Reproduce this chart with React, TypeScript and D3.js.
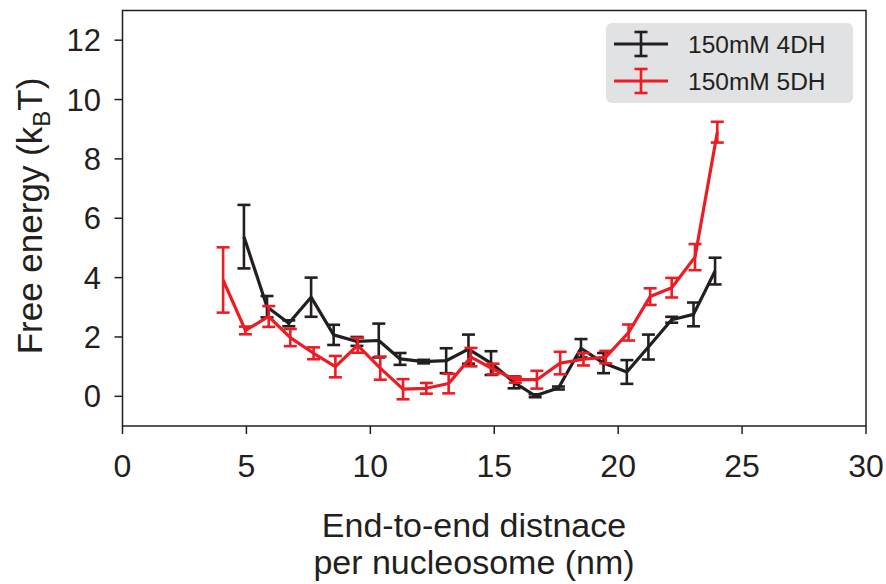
import React from "react";
import * as d3 from "d3";

const x4DH = [4.9, 5.83, 6.71, 7.61, 8.52, 9.46, 10.34, 11.2, 12.15, 13.06, 13.96, 14.87, 15.8, 16.65, 17.59, 18.5, 19.41, 20.35, 21.22, 22.16, 23.04, 23.91];
const y4DH = [5.38, 3.02, 2.46, 3.34, 2.07, 1.85, 1.88, 1.26, 1.17, 1.2, 1.59, 1.12, 0.47, 0.02, 0.28, 1.62, 1.12, 0.82, 1.66, 2.58, 2.76, 4.22];
const e4DH = [1.07, 0.36, 0.1, 0.66, 0.34, 0.15, 0.57, 0.2, 0.06, 0.42, 0.49, 0.4, 0.2, 0.05, 0.05, 0.31, 0.34, 0.4, 0.42, 0.1, 0.4, 0.45];

const x5DH = [4.06, 4.96, 5.9, 6.77, 7.71, 8.59, 9.49, 10.4, 11.32, 12.26, 13.16, 14.06, 14.95, 15.85, 16.72, 17.66, 18.6, 19.5, 20.42, 21.29, 22.16, 23.1, 24.0];
const y5DH = [3.92, 2.22, 2.69, 1.98, 1.45, 1.0, 1.72, 0.95, 0.24, 0.27, 0.43, 1.32, 0.92, 0.56, 0.56, 1.12, 1.25, 1.32, 2.15, 3.36, 3.66, 4.69, 8.9];
const e5DH = [1.1, 0.13, 0.35, 0.29, 0.2, 0.36, 0.25, 0.39, 0.34, 0.18, 0.33, 0.31, 0.18, 0.1, 0.3, 0.38, 0.21, 0.21, 0.27, 0.28, 0.33, 0.44, 0.35];

const xTicks = [0, 5, 10, 15, 20, 25, 30];
const yTicks = [0, 2, 4, 6, 8, 10, 12];
const seriesNames = ["150mM 4DH", "150mM 5DH"];
const seriesColors = ["#231f20", "#ed1c24"];
const xLabelLines = ["End-to-end distnace", "per nucleosome (nm)"];

const FONT = "'Liberation Sans', Arial, Helvetica, sans-serif";
const INK = "#231f20";

export default function App() {
  const W = 886, H = 584;
  const left = 122.5, right = 866, top = 10.5, bottom = 426;
  const x = d3.scaleLinear().domain([0, 30]).range([left, right]);
  const y = d3.scaleLinear().domain([-1, 13]).range([bottom, top]);
  const line = d3.line<[number, number]>().x(d => x(d[0])).y(d => y(d[1]));

  const series = [
    { xs: x4DH, ys: y4DH, es: e4DH },
    { xs: x5DH, ys: y5DH, es: e5DH },
  ];
  const cap = 6.5;

  return (
    <svg width={W} height={H} style={{ position: "absolute", left: 0, top: 0, background: "#fff" }}>
      {/* frame */}
      <rect x={left} y={top} width={right - left} height={bottom - top} fill="none" stroke={INK} strokeWidth={1.5} />
      {/* x ticks */}
      {xTicks.map(t => (
        <g key={"xt" + t}>
          <line x1={x(t)} x2={x(t)} y1={bottom} y2={bottom + 8} stroke={INK} strokeWidth={1.5} />
          <text x={x(t)} y={477} textAnchor="middle" fontFamily={FONT} fontSize={32} fill={INK}>{t}</text>
        </g>
      ))}
      {/* y ticks */}
      {yTicks.map(t => (
        <g key={"yt" + t}>
          <line x1={left - 8} x2={left} y1={y(t)} y2={y(t)} stroke={INK} strokeWidth={1.5} />
          <text x={101} y={y(t)} dy="0.36em" textAnchor="end" fontFamily={FONT} fontSize={31} fill={INK}>{t}</text>
        </g>
      ))}
      {/* series */}
      {series.map((s, i) => (
        <g key={"s" + i}>
          <path d={line(s.xs.map((v, j) => [v, s.ys[j]] as [number, number])) || ""} fill="none" stroke={seriesColors[i]} strokeWidth={3.2} strokeLinejoin="round" />
          {s.xs.map((v, j) => {
            const cx = x(v), y1 = y(s.ys[j] + s.es[j]), y2 = y(s.ys[j] - s.es[j]);
            return (
              <g key={j} stroke={seriesColors[i]} strokeWidth={2.6}>
                <line x1={cx} x2={cx} y1={y1} y2={y2} />
                <line x1={cx - cap} x2={cx + cap} y1={y1} y2={y1} />
                <line x1={cx - cap} x2={cx + cap} y1={y2} y2={y2} />
              </g>
            );
          })}
        </g>
      ))}
      {/* legend */}
      <rect x={606} y={23} width={247} height={80} rx={6} fill="#e1e2e4" />
      {seriesNames.map((n, i) => {
        const ly = 44 + i * 37;
        return (
          <g key={"lg" + i}>
            <line x1={614} x2={668} y1={ly} y2={ly} stroke={seriesColors[i]} strokeWidth={3} />
            <g stroke={seriesColors[i]} strokeWidth={2.6}>
              <line x1={641} x2={641} y1={ly - 12} y2={ly + 12} />
              <line x1={641 - cap} x2={641 + cap} y1={ly - 12} y2={ly - 12} />
              <line x1={641 - cap} x2={641 + cap} y1={ly + 12} y2={ly + 12} />
            </g>
            <text x={688} y={ly} dy="0.36em" fontFamily={FONT} fontSize={24.5} fill={INK}>{n}</text>
          </g>
        );
      })}
      {/* axis labels */}
      <text textAnchor="middle" fontFamily={FONT} fontSize={34} fill={INK}>
        <tspan x={474} y={537}>{xLabelLines[0]}</tspan>
        <tspan x={474} y={574}>{xLabelLines[1]}</tspan>
      </text>
      <text transform="translate(42,216) rotate(-90)" textAnchor="middle" fontFamily={FONT} fontSize={35} fill={INK}>
        Free energy (k<tspan fontSize={24} dy={8}>B</tspan><tspan dy={-8}>T)</tspan>
      </text>
    </svg>
  );
}
